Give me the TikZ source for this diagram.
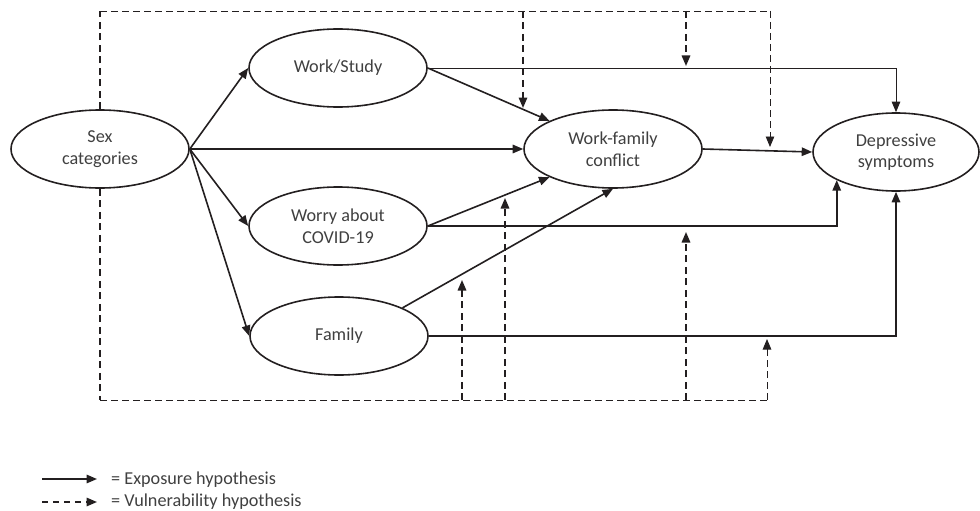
\documentclass[tikz,border=0pt]{standalone}
\usepackage{fontspec}
\setmainfont{Carlito}
\usetikzlibrary{arrows.meta,shapes.geometric}
\definecolor{ln}{HTML}{231F20}
\definecolor{tx}{HTML}{404040}
\begin{document}
\begin{tikzpicture}[x=1pt,y=-1pt,
  font=\fontsize{18.2}{21.5}\selectfont,
  var/.style={ellipse,draw=ln,line width=1.6pt,minimum width=178pt,minimum height=78pt,inner sep=0pt,align=center,text=tx},
  tip/.style={-{Triangle[length=10.5pt,width=8.5pt]}},
  sol/.style={draw=ln,line width=1.6pt,tip},
  solthin/.style={draw=ln,line width=0.9pt,tip},
  dthick/.style={draw=ln,line width=1.6pt,dash pattern=on 7pt off 4.5pt},
  dthin/.style={draw=ln,line width=0.9pt,dash pattern=on 7pt off 4pt},
  lab/.style={anchor=west,text=tx,inner sep=0pt}]
\useasboundingbox (0,0) rectangle (980,511);
\node[var] (sex) at (100,149) {Sex\\categories};
\node[var] (ws) at (338,68) {Work/Study};
\node[var] (worry) at (338,226) {Worry about\\COVID-19};
\node[var] (fam) at (339,336) {Family};
\node[var] (wfc) at (613,149) {Work-family\\conflict};
\node[var,minimum width=166pt] (dep) at (896,152) {Depressive\\symptoms};
% solid arrows
\draw[sol] (sex.east) -- (ws.west);
\draw[sol] (sex.east) -- (worry.west);
\draw[sol] (sex.east) -- (fam.west);
\draw[sol] (sex.east) -- (wfc.west);
\draw[sol] (ws.east) -- (wfc.north west);
\draw[sol] (worry.east) -- (wfc.south west);
\draw[sol] (fam.north east) -- (wfc.south);
\draw[sol] (wfc.east) -- (dep.west);
\draw[solthin] (ws.east) -| (dep.north);
\draw[sol] (worry.east) -| (dep.south west);
\draw[sol] (fam.east) -| (dep.south);
% dashed frame
\coordinate (tl) at (100,11);
\coordinate (tr) at (770,11);
\coordinate (bl) at (100,400);
\coordinate (br) at (767,400);
\coordinate (t1) at (523,11);
\coordinate (t2) at (686,11);
\coordinate (m1) at (523,108);
\coordinate (m2) at (686,66);
\coordinate (m3) at (770,147);
\coordinate (b1) at (462,400);
\coordinate (b2) at (505,400);
\coordinate (b3) at (686,400);
\coordinate (n1) at (462,280);
\coordinate (n2) at (505,198);
\coordinate (n3) at (686,232);
\coordinate (n4) at (767,339);
\draw[dthick] (sex.north) -- (tl);
\draw[dthin] (tl) -- (tr);
\draw[dthin,tip] (tr) -- (m3);
\draw[dthick,tip] (t1) -- (m1);
\draw[dthick,tip] (t2) -- (m2);
\draw[dthick] (sex.south) -- (bl);
\draw[dthin] (bl) -- (br);
\draw[dthin,tip] (br) -- (n4);
\draw[dthick,tip] (b1) -- (n1);
\draw[dthick,tip] (b2) -- (n2);
\draw[dthick,tip] (b3) -- (n3);
% legend
\coordinate (l1a) at (42,479);
\coordinate (l1b) at (97,479);
\coordinate (l2a) at (42,502);
\coordinate (l2b) at (97,502);
\draw[sol] (l1a) -- (l1b);
\draw[dthick,tip,dash pattern=on 6pt off 5pt] (l2a) -- (l2b);
\node[lab] (e1) at (111,480) {= Exposure hypothesis};
\node[lab] (e2) at (111,502) {= Vulnerability hypothesis};
\end{tikzpicture}
\end{document}
